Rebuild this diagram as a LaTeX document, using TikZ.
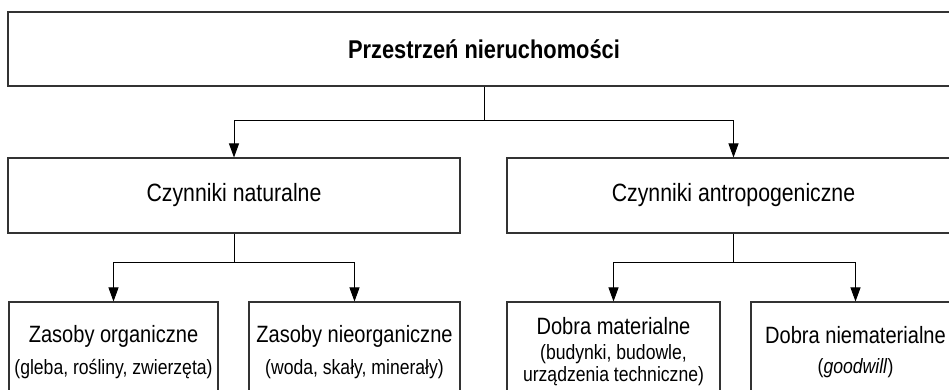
\documentclass[tikz,border=0pt]{standalone}
\usepackage{fontspec}
\setmainfont{Liberation Sans}[FakeStretch=0.85]
\usetikzlibrary{arrows.meta,positioning}

\newcommand{\subtxt}[1]{{\fontsize{20.7}{22}\selectfont #1}}

\tikzset{
  box/.style={draw=black!80,line width=1.1pt,rectangle,align=center,inner sep=0pt,
    font=\fontsize{25}{28}\selectfont},
  wire/.style={draw=black,line width=0.9pt},
  arr/.style={wire,-{Triangle[length=14pt,width=10pt]}}
}

\begin{document}
\begin{tikzpicture}[x=1pt,y=-1pt]
  \path[use as bounding box,clip] (0,0) rectangle (949,389);
  % poziom 1
  \node[box,minimum width=952pt,minimum height=74pt,font=\fontsize{25.7}{28}\selectfont\bfseries] (prz) at (484,49) {Przestrzeń nieruchomości};
  % poziom 2
  \node[box,minimum width=452pt,minimum height=75pt] (nat) at (234,195.5) {Czynniki naturalne};
  \node[box,minimum width=453pt,minimum height=75pt] (ant) at (733.5,195.5) {Czynniki antropogeniczne};
  % poziom 3
  \node[box,minimum width=209pt,minimum height=100pt,font=\fontsize{23.6}{28}\selectfont] (org) at (113.5,352) {Zasoby organiczne\\[4pt]\subtxt{(gleba, rośliny, zwierzęta)}};
  \node[box,minimum width=211pt,minimum height=100pt,font=\fontsize{23.6}{28}\selectfont] (nie) at (354.5,352) {Zasoby nieorganiczne\\[4pt]\subtxt{(woda, skały, minerały)}};
  \node[box,minimum width=213pt,minimum height=100pt,font=\fontsize{23.6}{28}\selectfont] (mat) at (613.5,352) {Dobra materialne\\[-3pt]\subtxt{(budynki, budowle,}\\[-6pt]\subtxt{urządzenia techniczne)}};
  \node[box,minimum width=209pt,minimum height=100pt,font=\fontsize{23.6}{28}\selectfont] (nmat) at (855.5,352) {Dobra niematerialne\\[2pt]\subtxt{(\textit{goodwill})}};
  % polaczenia
  \coordinate (busA) at (484,120);
  \coordinate (busB) at (234,262);
  \coordinate (busC) at (733.5,262);
  \draw[wire] (prz.south) -- (busA);
  \draw[arr] (busA) -| (nat.north);
  \draw[arr] (busA) -| (ant.north);
  \draw[wire] (nat.south) -- (busB);
  \draw[arr] (busB) -| (org.north);
  \draw[arr] (busB) -| (nie.north);
  \draw[wire] (ant.south) -- (busC);
  \draw[arr] (busC) -| (mat.north);
  \draw[arr] (busC) -| (nmat.north);
\end{tikzpicture}
\end{document}
